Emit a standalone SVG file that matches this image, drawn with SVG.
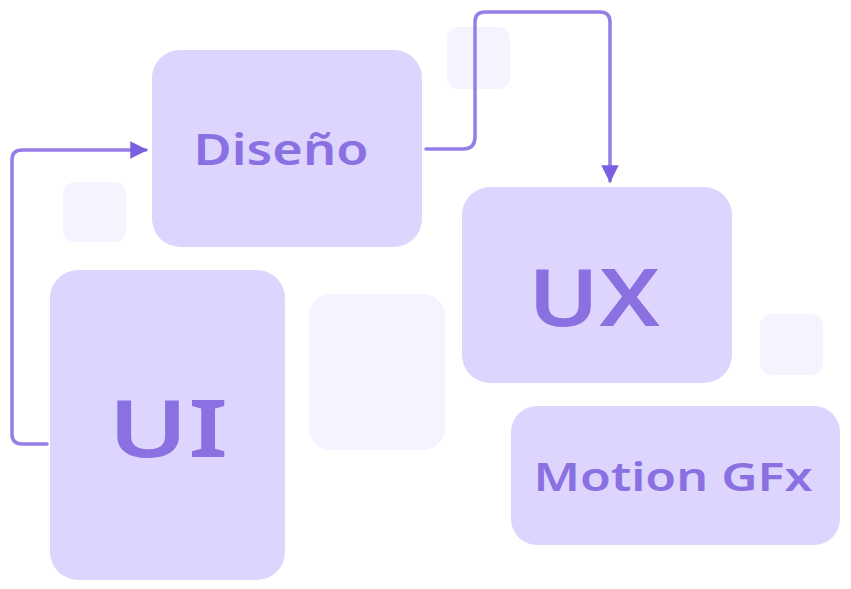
<svg xmlns="http://www.w3.org/2000/svg" width="851" height="589" viewBox="0 0 851 589">
<style>
.box{fill:#ded5ff;}
.ghost{fill:#f5f3ff;}
.lbl{fill:#8b70e2;font-family:"Noto Sans","DejaVu Sans",sans-serif;font-weight:600;text-anchor:middle;dominant-baseline:central;}
.wire{fill:none;stroke:#957fe6;stroke-width:3.5;stroke-linecap:round;stroke-linejoin:round;}
</style>
<defs>
<marker id="ah" viewBox="0 0 10 10" refX="9" refY="5" markerWidth="5.5" markerHeight="5" markerUnits="strokeWidth" orient="auto">
<path d="M0,0 L10,5 L0,10 Z" fill="#7c5fe0"/>
</marker>
</defs>
<rect width="851" height="589" fill="#ffffff"/>
<g id="ghosts">
<rect class="ghost" x="63" y="182" width="63" height="60" rx="12"/>
<rect class="ghost" x="447" y="27" width="63" height="62" rx="12"/>
<rect class="ghost" x="309" y="294" width="136" height="156" rx="22"/>
<rect class="ghost" x="760" y="314" width="63" height="61" rx="12"/>
</g>
<g id="connectors">
<path class="wire" d="M47,444 L22,444 Q12,444 12,434 L12,160 Q12,150 22,150 L146,150" marker-end="url(#ah)"/>
<path class="wire" d="M426,149 L463,149 Q475,149 475,137 L475,22 Q475,12 485,12 L600,12 Q610,12 610,22 L610,181" marker-end="url(#ah)"/>
</g>
<g id="diseno">
<rect class="box" x="152" y="50" width="270" height="197" rx="28"/>
<text class="lbl" x="281" y="148" font-size="44" textLength="175" lengthAdjust="spacingAndGlyphs">Diseño</text>
</g>
<g id="ux">
<rect class="box" x="462" y="187" width="270" height="196" rx="28"/>
<text class="lbl" x="594" y="294" font-size="80" textLength="132" lengthAdjust="spacingAndGlyphs">UX</text>
</g>
<g id="ui">
<rect class="box" x="50" y="270" width="235" height="310" rx="28"/>
<text class="lbl" x="168" y="425" font-size="80" textLength="120" lengthAdjust="spacingAndGlyphs">UI</text>
</g>
<g id="motion">
<rect class="box" x="511" y="406" width="329" height="139" rx="26"/>
<text class="lbl" x="673" y="475" font-size="40" textLength="279" lengthAdjust="spacingAndGlyphs">Motion GFx</text>
</g>
</svg>
